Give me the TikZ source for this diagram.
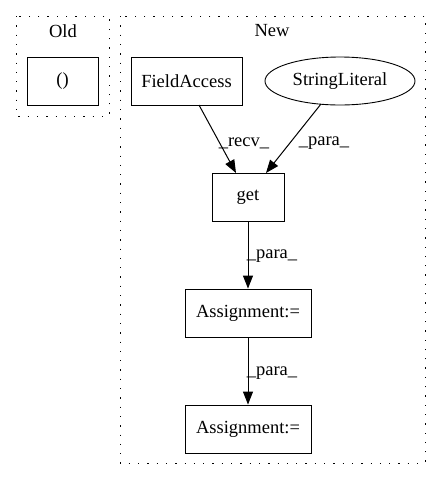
\documentclass[tikz,border=0pt]{standalone}
\usepackage{fontspec}
\setmainfont{Liberation Serif}
\usetikzlibrary{arrows.meta,shapes.geometric}
\begin{document}
\begin{tikzpicture}[x=1pt,y=-1pt,
  every node/.style={font=\fontsize{18.5}{21}\selectfont},
  boxnode/.style={draw,line width=0.9pt,rectangle,inner sep=0pt},
  ellnode/.style={draw,line width=0.9pt,ellipse,inner sep=0pt},
  cluster/.style={draw,line width=1pt,dash pattern=on 1.3pt off 8pt},
  edge/.style={draw,line width=1pt,-{Triangle[length=13pt,width=10pt]}},
  elabel/.style={inner sep=1pt}]
\useasboundingbox (0,0) rectangle (441,480);
% clusters
\draw[cluster] (16,16) rectangle (109,116);
\node (oldlbl) at (63,31) {Old};
\draw[cluster] (120,16) rectangle (425,463);
\node (newlbl) at (272,31) {New};
% nodes
\node[boxnode,minimum width=71pt,minimum height=48pt] (paren) at (62.5,81) {()};
\node[boxnode,minimum width=111pt,minimum height=48pt] (fa) at (186.5,81) {FieldAccess};
\node[ellnode,minimum width=150pt,minimum height=48pt] (sl) at (340,81) {StringLiteral};
\node[boxnode,minimum width=72pt,minimum height=48pt] (get) at (248,197) {get};
\node[boxnode,minimum width=126pt,minimum height=48pt] (a1) at (248,313) {Assignment:=};
\node[boxnode,minimum width=126pt,minimum height=48pt] (a2) at (248,429) {Assignment:=};
% edges
\coordinate (fab) at (199,105);
\coordinate (gett1) at (236,173);
\coordinate (slb) at (321,104);
\coordinate (gett2) at (266,173);
\draw[edge] (fab) -- (gett1);
\draw[edge] (slb) -- (gett2);
\draw[edge] (get) -- (a1);
\draw[edge] (a1) -- (a2);
% labels
\node[elabel] (l1) at (244,143) {\_recv\_};
\node[elabel] (l2) at (324,143) {\_para\_};
\node[elabel] (l3) at (272,256) {\_para\_};
\node[elabel] (l4) at (272,373) {\_para\_};
\end{tikzpicture}
\end{document}
